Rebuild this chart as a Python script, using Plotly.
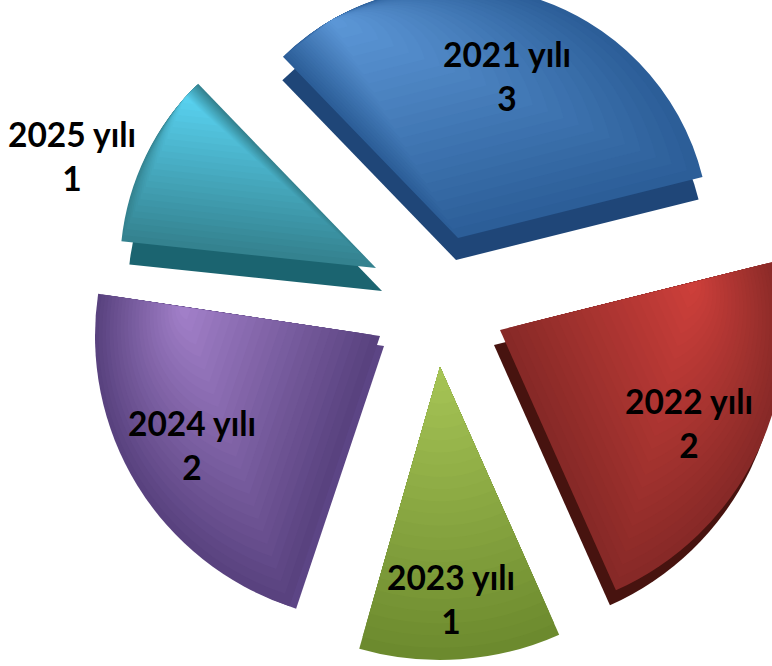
import math
import plotly.graph_objects as go

# --- data ---
categories = ["2021 yılı", "2022 yılı", "2023 yılı", "2024 yılı", "2025 yılı"]
values = [3, 2, 1, 2, 1]

# --- styling / layout constants ---
W, H = 772, 666
PAD_TOP, PAD_RIGHT = 24, 40     # canvas extends past the window so slices can bleed off it
START_ANGLE = -44
LAYERS = 24
tops_light = ["#5B96D6", "#CC3F3A", "#A6C455", "#A17FC8", "#58D0EE"]
tops_dark = ["#2C5E98", "#872927", "#6C8A2E", "#59427F", "#34828F"]
sides = ["#1F4678", "#47130F", "#6C8A2E", "#5C4585", "#1B6470"]
apex = [(458, 238), (500, 330), (440, 367), (380, 336), (376, 268)]
radius = [252, 285, 293, 285, 256]
rot_tweak = [0, 0, 0, 2.5, 0]   # perspective of the original skews the slices slightly
side_apex = [(456, 260), (494, 345), None, (384, 346), (382, 291)]
side_radius = [250, 285, 0, 277, 254]
light_offset = [(14, 0.999), (0.2, 0.7), (20, 0.0), (79.8, 0.7), (36, 0.999)]
label_pos = [(507, 76), (689, 423), (451, 599), (192, 445), (72, 156)]

CW, CH = W + PAD_RIGHT, H + PAD_TOP


def mix(a, b, t):
    ca = [int(a[i:i + 2], 16) for i in (1, 3, 5)]
    cb = [int(b[i:i + 2], 16) for i in (1, 3, 5)]
    return "rgb(%d,%d,%d)" % tuple(round(x + (y - x) * t) for x, y in zip(ca, cb))


total = sum(values)
fig = go.Figure()


def wedge(name, value, rot, ax, ay, r, color):
    ay = ay + PAD_TOP
    r = min(r, ax, CW - ax, ay, CH - ay)
    fig.add_trace(go.Pie(
        labels=[name, "rest"], values=[value, total - value],
        sort=False, direction="clockwise", rotation=rot,
        marker=dict(colors=[color, "rgba(0,0,0,0)"], line=dict(width=0)),
        textinfo="none", hoverinfo="skip", showlegend=False,
        domain=dict(x=[(ax - r) / CW, (ax + r) / CW],
                    y=[1 - (ay + r) / CH, 1 - (ay - r) / CH]),
    ))


angle = START_ANGLE
starts = []
for i, v in enumerate(values):
    starts.append(angle + rot_tweak[i])
    angle += 360 * v / total

# side walls first
for i, name in enumerate(categories):
    if side_apex[i]:
        wedge(name, values[i], starts[i], side_apex[i][0], side_apex[i][1],
              side_radius[i], sides[i])

# tops, nested toward a light point on the slice edge to give a gradient
for i, name in enumerate(categories):
    off, frac = light_offset[i]
    a = math.radians(starts[i] + off)
    px = apex[i][0] + frac * radius[i] * math.sin(a)
    py = apex[i][1] - frac * radius[i] * math.cos(a)
    for k in range(LAYERS):
        s = 1 - k / LAYERS
        ax = px + s * (apex[i][0] - px)
        ay = py + s * (apex[i][1] - py)
        wedge(name, values[i], starts[i], ax, ay, radius[i] * s,
              mix(tops_dark[i], tops_light[i], k / (LAYERS - 1)))

for i, name in enumerate(categories):
    fig.add_annotation(
        x=label_pos[i][0] / CW, y=1 - (label_pos[i][1] + PAD_TOP) / CH,
        xref="paper", yref="paper", xanchor="center", yanchor="middle",
        text=f"<b>{name}<br>{values[i]}</b>", showarrow=False,
        font=dict(family="Lato", size=33.5, color="black"), align="center",
    )

fig.update_layout(
    width=CW, height=CH, margin=dict(l=0, r=0, t=0, b=0),
    paper_bgcolor="white", plot_bgcolor="white", showlegend=False,
)
fig.write_html(
    "out.html",
    config={"displayModeBar": False},
    post_script=f"document.body.style.margin='-{PAD_TOP}px 0 0 0';"
                "document.documentElement.style.overflow='hidden';"
                "document.body.style.overflow='hidden';",
)
